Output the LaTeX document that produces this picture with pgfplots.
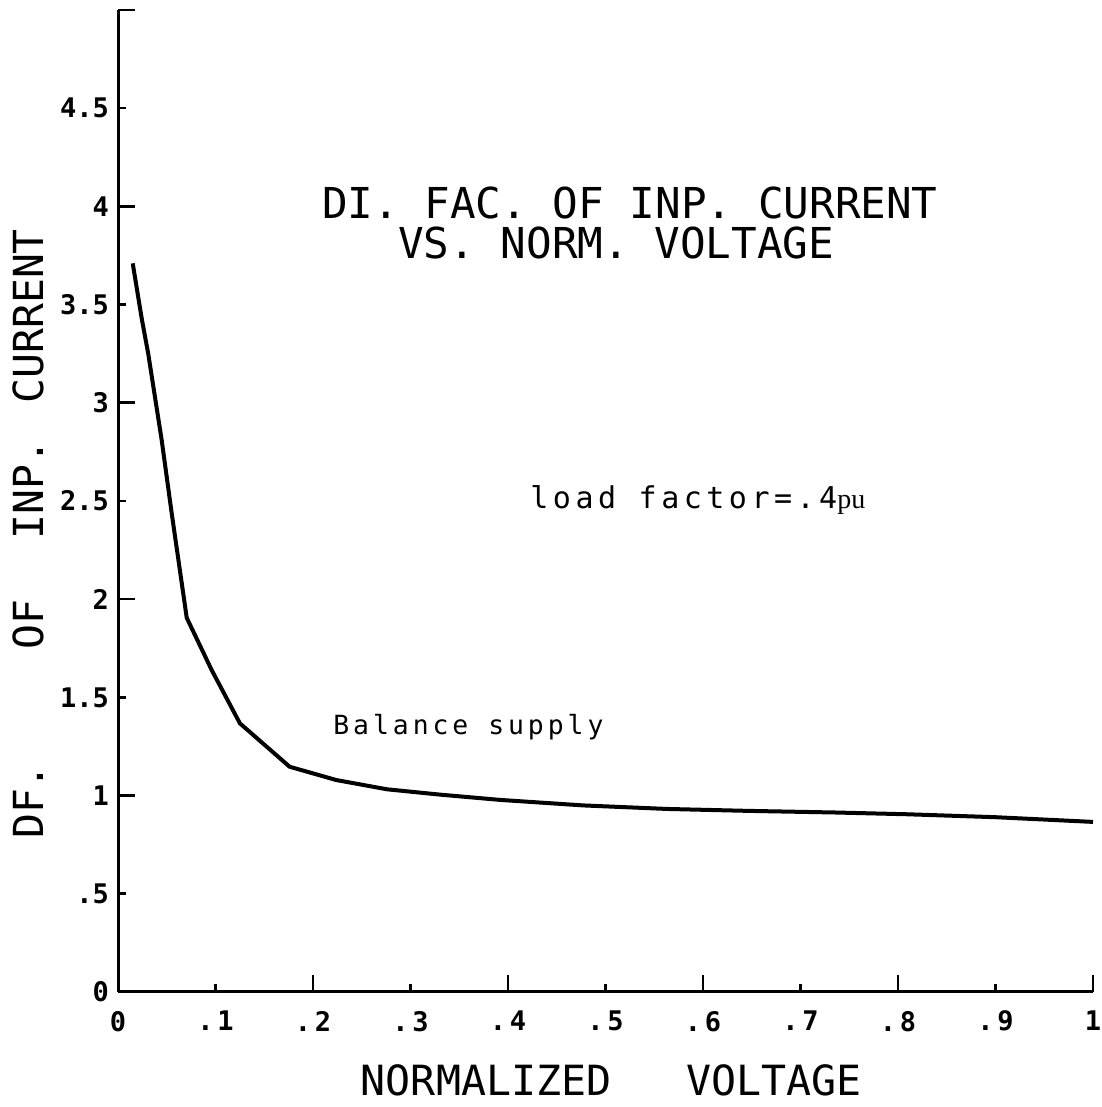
\documentclass[border=0pt]{standalone}
\usepackage{fontspec}
\setmainfont{Liberation Sans}
\usepackage{pgfplots}
\pgfplotsset{compat=1.18}
\newfontfamily\plotfont{DejaVu Sans Mono}
\newfontfamily\annfont{DejaVu Sans Mono}[LetterSpace=15]
\newfontfamily\tickfont{DejaVu Sans Mono}
\newfontfamily\xtickfont{DejaVu Sans Mono}[LetterSpace=14]
\newfontfamily\pufont{Liberation Serif}
\begin{document}
\begin{tikzpicture}
\begin{axis}[
  name=ax,
  scale only axis,
  width=487.5bp, height=491bp,
  xmin=0, xmax=1, ymin=0, ymax=5,
  axis lines=left,
  axis line style={-, line width=1.5bp, black},
  clip=false,
  tick align=inside,
  xtick={0,0.2,0.4,0.6,0.8,1},
  xticklabels={0,.2,.4,.6,.8,1},
  ytick={0,1,2,3,4,5},
  yticklabels={0,1,2,3,4,{}},
  extra x ticks={0.1,0.3,0.5,0.7,0.9},
  extra x tick labels={.1,.3,.5,.7,.9},
  extra y ticks={0.5,1.5,2.5,3.5,4.5},
  extra y tick labels={.5,1.5,2.5,3.5,4.5},
  major tick length=8.5bp,
  extra tick style={major tick length=4bp},
  every tick/.style={black, line width=1.3bp},
  yticklabel style={font=\fontsize{13.5bp}{16bp}\tickfont\bfseries, xshift=-1bp},
  xticklabel style={font=\fontsize{13.5bp}{16bp}\xtickfont\bfseries, yshift=-6bp},
]
\addplot[black, line width=2bp] coordinates {
(0.0151,3.71) (0.0243,3.43) (0.0310,3.25) (0.0448,2.81) (0.0550,2.44) (0.0705,1.905)
(0.0960,1.64) (0.1250,1.368) (0.1760,1.147) (0.2240,1.079) (0.2760,1.032)
(0.3300,1.005) (0.3920,0.978) (0.4770,0.950) (0.5630,0.932) (0.6480,0.922)
(0.7350,0.914) (0.8090,0.905) (0.9000,0.890) (1.0000,0.866)
};
\node[anchor=base, font=\fontsize{21.3bp}{24bp}\plotfont] at (axis cs:0.525,3.936) {DI. FAC. OF INP. CURRENT};
\node[anchor=base, font=\fontsize{21.3bp}{24bp}\plotfont] at (axis cs:0.511,3.733) {VS. NORM. VOLTAGE};
\begin{scope}[font=\fontsize{20.7bp}{24bp}\plotfont]
\node[xshift=-45bp, rotate=90] at (axis cs:0,3.44) {CURRENT};
\node[xshift=-45bp, rotate=90] at (axis cs:0,2.56) {INP.};
\node[xshift=-45bp, rotate=90] at (axis cs:0,1.87) {OF};
\node[xshift=-45bp, rotate=90] at (axis cs:0,0.97) {DF.};
\end{scope}
\node[yshift=-44bp, font=\fontsize{20.8bp}{24bp}\plotfont] at (axis cs:0.506,0) {NORMALIZED~~~VOLTAGE};
\node[anchor=base west, inner sep=0, font=\fontsize{15bp}{18bp}\annfont] at (axis cs:0.4226,2.46) {load factor=.4{\fontsize{14bp}{16bp}\pufont pu}};
\node[anchor=base west, inner sep=0, font=\fontsize{13.2bp}{16bp}\annfont] at (axis cs:0.2205,1.309) {Balance supply};
\end{axis}
\pgfresetboundingbox
\path[use as bounding box] ([shift={(-59bp,-57.5bp)}]ax.south west) rectangle ([shift={(4bp,5bp)}]ax.north east);
\end{tikzpicture}
\end{document}
